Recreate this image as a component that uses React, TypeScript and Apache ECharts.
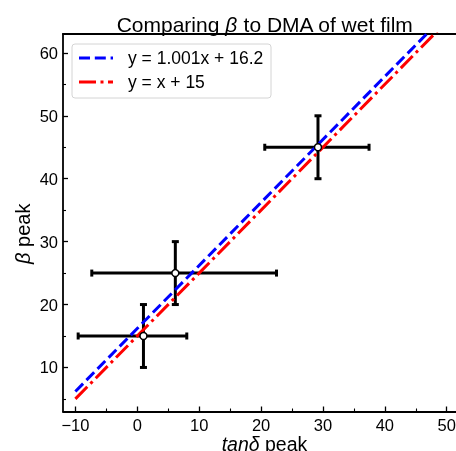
import React, { useEffect, useRef } from "react";
import * as echarts from "echarts";

// ---- data ----
const xMajorTicks = [-10, 0, 10, 20, 30, 40, 50];
const xMinorTicks = [-5, 5, 15, 25, 35, 45];
const yMajorTicks = [10, 20, 30, 40, 50, 60];
const yMinorTicks = [5, 15, 25, 35, 45, 55];

const pointX = [1.0, 6.15, 29.2];
const pointY = [15, 25, 45];
const xErrLow = [-9.55, -7.35, 20.6];
const xErrHigh = [8.0, 22.5, 37.45];
const yErrLow = [10, 20, 40];
const yErrHigh = [20, 30, 50];

const fitLineX = [-10, 50];
const fitLineY = [6.19, 66.25]; // y = 1.001x + 16.2
const refLineX = [-10, 50];
const refLineY = [5, 65]; // y = x + 15

const fitLabel = "y = 1.001x + 16.2";
const refLabel = "y = x + 15";

const FONT = "'Liberation Sans', Arial, sans-serif";

export default function App() {
  const ref = useRef<HTMLDivElement>(null);
  useEffect(() => {
    if (!ref.current) return;
    const chart = echarts.init(ref.current, null, { renderer: "svg" });
    const minus = (v: number) => (v < 0 ? "\u2212" + Math.abs(v) : String(v));
    const errData = pointX.map((x, i) => [x, pointY[i], xErrLow[i], xErrHigh[i], yErrLow[i], yErrHigh[i]]);
    const cap = 3.5;
    const errStyle = { stroke: "#000", lineWidth: 3 };
    const xMin = -12, xMax = 51.5, yMin = 3, yMax = 63;
    const hiddenX = (extra: any) => ({
      type: "value", min: xMin, max: xMax, splitLine: { show: false }, axisLabel: { show: false }, ...extra,
    });
    const hiddenY = (extra: any) => ({
      type: "value", min: yMin, max: yMax, splitLine: { show: false }, axisLabel: { show: false }, ...extra,
    });
    chart.setOption({
      animation: false,
      textStyle: { fontFamily: FONT },
      title: {
        text: "{n|Comparing }{i|β}{n| to DMA of wet film}",
        left: 260,
        top: 9,
        textAlign: "center",
        textStyle: {
          fontWeight: "normal",
          rich: {
            n: { fontSize: 21, color: "#000", fontFamily: FONT, fontWeight: "normal" },
            i: { fontSize: 21, color: "#000", fontFamily: FONT, fontStyle: "italic", fontWeight: "normal" },
          },
        },
      },
      grid: { left: 63, right: 0, top: 34, bottom: 39.5, outerBoundsMode: "none", containLabel: false },
      xAxis: [
        {
          type: "value",
          min: xMin,
          max: xMax,
          position: "bottom",
          splitLine: { show: false },
          axisLine: { show: true, onZero: false, lineStyle: { color: "#000", width: 1.8 } },
          axisTick: { show: true, inside: true, length: 5, customValues: xMajorTicks, lineStyle: { color: "#000", width: 1.3 } },
          axisLabel: { customValues: xMajorTicks, formatter: minus, fontSize: 16.5, lineHeight: 16, color: "#000", margin: 5, fontFamily: FONT },
          name: "{i|tanδ} peak",
          nameLocation: "middle",
          nameMoveOverlap: false,
          nameGap: 22,
          nameTextStyle: {
            fontSize: 19.5, color: "#000", fontFamily: FONT,
            padding: [0, 0, 0, 10],
            rich: { i: { fontSize: 19.5, color: "#000", fontFamily: FONT, fontStyle: "italic" } },
          },
        },
        hiddenX({
          position: "bottom",
          axisLine: { show: false, onZero: false },
          axisTick: { show: true, inside: true, length: 3, customValues: xMinorTicks, lineStyle: { color: "#000", width: 1.1 } },
        }),
        hiddenX({
          position: "top",
          axisLine: { show: true, onZero: false, lineStyle: { color: "#000", width: 1.8 } },
          axisTick: { show: false },
        }),
      ],
      yAxis: [
        {
          type: "value",
          min: yMin,
          max: yMax,
          position: "left",
          splitLine: { show: false },
          axisLine: { show: true, onZero: false, lineStyle: { color: "#000", width: 1.8 } },
          axisTick: { show: true, inside: true, length: 5, customValues: yMajorTicks, lineStyle: { color: "#000", width: 1.3 } },
          axisLabel: { customValues: yMajorTicks, formatter: minus, fontSize: 16.5, color: "#000", margin: 5, fontFamily: FONT },
          name: "{i|β} peak",
          nameLocation: "middle",
          nameMoveOverlap: false,
          nameGap: 30,
          nameTextStyle: {
            fontSize: 20, color: "#000", fontFamily: FONT,
            padding: [0, 22, 0, 0],
            rich: { i: { fontSize: 20, color: "#000", fontFamily: FONT, fontStyle: "italic" } },
          },
        },
        hiddenY({
          position: "left",
          axisLine: { show: false, onZero: false },
          axisTick: { show: true, inside: true, length: 3, customValues: yMinorTicks, lineStyle: { color: "#000", width: 1.1 } },
        }),
      ],
      series: [
        {
          type: "custom",
          name: "errors",
          xAxisIndex: 0,
          yAxisIndex: 0,
          z: 2,
          data: errData,
          renderItem: (params: any, api: any) => {
            const x = api.value(0), y = api.value(1);
            const pL = api.coord([api.value(2), y]);
            const pR = api.coord([api.value(3), y]);
            const pB = api.coord([x, api.value(4)]);
            const pT = api.coord([x, api.value(5)]);
            const ln = (x1: number, y1: number, x2: number, y2: number) => ({
              type: "line",
              shape: { x1, y1, x2, y2 },
              style: errStyle,
            });
            return {
              type: "group",
              children: [
                ln(pL[0], pL[1], pR[0], pR[1]),
                ln(pB[0], pB[1], pT[0], pT[1]),
                ln(pL[0], pL[1] - cap, pL[0], pL[1] + cap),
                ln(pR[0], pR[1] - cap, pR[0], pR[1] + cap),
                ln(pB[0] - cap, pB[1], pB[0] + cap, pB[1]),
                ln(pT[0] - cap, pT[1], pT[0] + cap, pT[1]),
              ],
            };
          },
        },
        {
          type: "line",
          name: fitLabel,
          z: 3,
          symbol: "none",
          clip: true,
          data: fitLineX.map((x, i) => [x, fitLineY[i]]),
          lineStyle: { color: "#0000ff", width: 3, type: [11, 4.8], cap: "butt" },
        },
        {
          type: "line",
          name: refLabel,
          z: 3,
          symbol: "none",
          clip: true,
          data: refLineX.map((x, i) => [x, refLineY[i]]),
          lineStyle: { color: "#ff0000", width: 3, type: [17, 4.5, 3, 4.5], cap: "butt" },
        },
        {
          type: "scatter",
          name: "points",
          z: 4,
          symbol: "circle",
          symbolSize: 7,
          data: pointX.map((x, i) => [x, pointY[i]]),
          itemStyle: { color: "#fff", borderColor: "#000", borderWidth: 1.5, opacity: 1 },
        },
      ],
      graphic: [
        {
          type: "group",
          z: 100,
          children: [
            {
              type: "rect",
              shape: { x: 72, y: 44, width: 199, height: 54, r: 3 },
              style: { fill: "rgba(255,255,255,0.8)", stroke: "#d4d4d4", lineWidth: 1 },
            },
            {
              type: "line",
              shape: { x1: 79, y1: 58, x2: 113, y2: 58 },
              style: { stroke: "#0000ff", lineWidth: 3, lineDash: [11, 4.8], lineCap: "butt" },
            },
            {
              type: "line",
              shape: { x1: 79, y1: 82, x2: 113, y2: 82 },
              style: { stroke: "#ff0000", lineWidth: 3, lineDash: [17, 4.5, 3, 4.5], lineCap: "butt" },
            },
            {
              type: "text",
              x: 128,
              y: 58,
              style: { text: fitLabel, fontSize: 17.5, fontFamily: FONT, fill: "#000", verticalAlign: "middle", align: "left" },
            },
            {
              type: "text",
              x: 128,
              y: 82,
              style: { text: refLabel, fontSize: 17.5, fontFamily: FONT, fill: "#000", verticalAlign: "middle", align: "left" },
            },
          ],
        },
      ],
    });
    return () => chart.dispose();
  }, []);
  return <div ref={ref} style={{ position: "fixed", left: 0, top: 0, width: 456, height: 451 }} />;
}
